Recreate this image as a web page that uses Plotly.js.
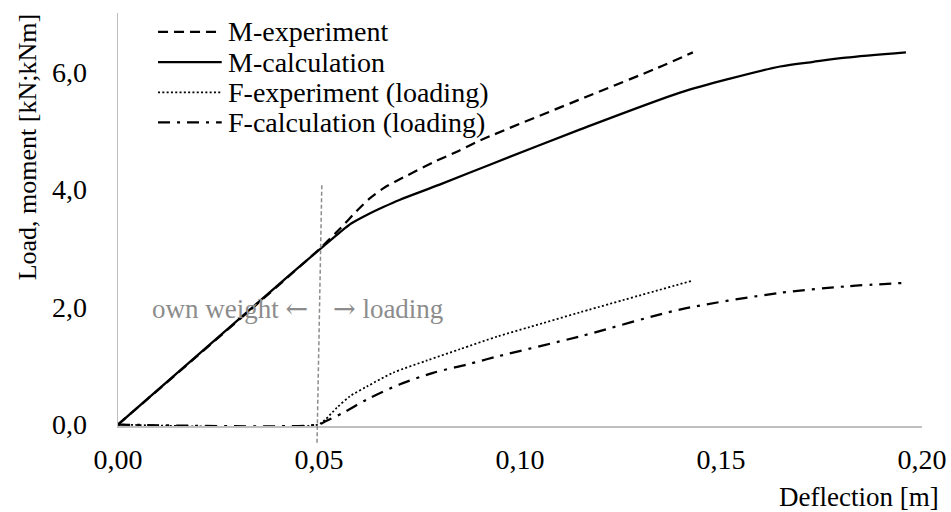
<!DOCTYPE html>
<html>
<head>
<meta charset="utf-8">
<script src="https://cdn.plot.ly/plotly-3.0.1.min.js"></script>
<style>
  html, body { margin: 0; padding: 0; background: #ffffff; }
  #chart { width: 951px; height: 512px; }
</style>
</head>
<body>
<div id="chart"></div>
<script>
// ---- data ----
var seriesNames = ["M-experiment", "M-calculation", "F-experiment (loading)", "F-calculation (loading)"];

var mExpX = [0, 0.050, 0.0552, 0.0595, 0.0627, 0.0665, 0.0709, 0.0784, 0.0843, 0.090, 0.1167, 0.134, 0.143];
var mExpY = [0, 2.98, 3.33, 3.64, 3.85, 4.04, 4.20, 4.46, 4.64, 4.83, 5.58, 6.06, 6.33];

var mCalcX = [0, 0.0428, 0.0507, 0.0552, 0.058, 0.062, 0.066, 0.070, 0.080, 0.0925, 0.115, 0.140, 0.152, 0.1647, 0.173, 0.181, 0.196];
var mCalcY = [0, 2.55, 3.01, 3.27, 3.42, 3.57, 3.70, 3.82, 4.08, 4.42, 5.02, 5.65, 5.88, 6.09, 6.17, 6.24, 6.33];

var fExpX = [0, 0.0498, 0.0515, 0.0545, 0.0577, 0.062, 0.0684, 0.0769, 0.085, 0.0945, 0.1025, 0.115, 0.143];
var fExpY = [0, 0, 0.08, 0.29, 0.48, 0.65, 0.88, 1.09, 1.28, 1.50, 1.66, 1.91, 2.45];

var fCalcX = [0, 0.050, 0.0515, 0.056, 0.062, 0.070, 0.0784, 0.0868, 0.0945, 0.115, 0.140, 0.1647, 0.181, 0.196];
var fCalcY = [0, 0, 0.05, 0.20, 0.43, 0.68, 0.88, 1.02, 1.16, 1.50, 1.96, 2.24, 2.35, 2.41];

var xTickVals = [0, 0.05, 0.10, 0.15, 0.20];
var yTickVals = [0, 2, 4, 6];

var xTitle = "Deflection [m]";
var yTitle = "Load, moment [kN;kNm]";
var leftNote = "own weight";
var rightNote = "loading";
var arrowLeft = "\u2190";
var arrowRight = "\u2192";
var dividerX = 0.05;

// ---- styles ----
var FONT = "Liberation Serif, Times New Roman, serif";
var ARROWFONT = "DejaVu Serif";
var styles = [
  {color: "#000000", width: 2.25, dash: "10px,6px"},
  {color: "#000000", width: 2.25, dash: "solid"},
  {color: "#000000", width: 1.75, dash: "2px,2.3px"},
  {color: "#000000", width: 2.25, dash: "12px,7px,3px,7px"}
];
var xs = [mExpX, mCalcX, fExpX, fCalcX];
var ys = [mExpY, mCalcY, fExpY, fCalcY];

var traces = seriesNames.map(function (n, i) {
  return {
    type: "scatter", mode: "lines", name: n,
    x: xs[i], y: ys[i],
    line: {color: styles[i].color, width: styles[i].width, dash: styles[i].dash,
           shape: "spline", smoothing: 0.8},
    showlegend: false, hoverinfo: "skip"
  };
});

// manual legend (long line samples like the reference)
var legRowsY = [0.954, 0.881, 0.808, 0.735];
var shapes = [];
var annotations = [];
seriesNames.forEach(function (n, i) {
  shapes.push({
    type: "line", xref: "paper", yref: "paper",
    x0: 0.0498, x1: 0.129, y0: legRowsY[i], y1: legRowsY[i],
    line: {color: styles[i].color, width: styles[i].width, dash: styles[i].dash}
  });
  annotations.push({
    xref: "paper", yref: "paper", x: 0.134, y: legRowsY[i],
    xanchor: "left", yanchor: "middle", showarrow: false,
    text: n, font: {family: FONT, size: 28, color: "#000000"}
  });
});

// divider line at 0.05 (slightly slanted, extends below the axis)
shapes.push({
  type: "line", xref: "x", yref: "paper",
  x0: dividerX + 0.0007, y0: 0.583, x1: dividerX - 0.0005, y1: -0.044,
  line: {color: "#8c8c8c", width: 1.5, dash: "4px,2.5px"}
});

annotations.push({
  xref: "x", yref: "y", x: 0.0478, y: 1.97, xanchor: "right", yanchor: "middle",
  showarrow: false,
  text: leftNote + " <span style=\"font-family:" + ARROWFONT + "\">" + arrowLeft + "</span>",
  font: {family: FONT, size: 27, color: "#8c8c8c"}
});
annotations.push({
  xref: "x", yref: "y", x: 0.053, y: 1.97, xanchor: "left", yanchor: "middle",
  showarrow: false,
  text: "<span style=\"font-family:" + ARROWFONT + "\">" + arrowRight + "</span> " + rightNote,
  font: {family: FONT, size: 27, color: "#8c8c8c"}
});

// axis titles as annotations (x title right-aligned, y title near top)
annotations.push({
  xref: "paper", yref: "paper", x: 1.024, y: -0.173, xanchor: "right", yanchor: "middle",
  showarrow: false, text: xTitle, font: {family: FONT, size: 27, color: "#000000"}
});
annotations.push({
  xref: "paper", yref: "paper", x: -0.113, y: 0.675, xanchor: "center", yanchor: "middle",
  textangle: -90, showarrow: false, text: yTitle, font: {family: FONT, size: 26, color: "#000000"}
});

var layout = {
  width: 951, height: 512,
  margin: {l: 118, r: 29, t: 13, b: 86},
  paper_bgcolor: "#ffffff", plot_bgcolor: "#ffffff",
  separators: ", ",
  showlegend: false,
  font: {family: FONT, size: 28, color: "#000000"},
  xaxis: {
    range: [0, 0.2], tickvals: xTickVals, tickformat: ".2f",
    showgrid: false, zeroline: false, showline: true,
    linecolor: "#bfbfbf", linewidth: 1.5, ticks: "",
    ticklabelstandoff: 8,
    tickfont: {family: FONT, size: 28, color: "#000000"}
  },
  yaxis: {
    range: [-0.025, 7], tickvals: yTickVals, tickformat: ".1f",
    showgrid: false, zeroline: false, showline: true,
    linecolor: "#bfbfbf", linewidth: 1.5, ticks: "",
    ticklabelstandoff: 24,
    tickfont: {family: FONT, size: 28, color: "#000000"}
  },
  shapes: shapes,
  annotations: annotations
};

Plotly.newPlot("chart", traces, layout, {staticPlot: true, displayModeBar: false});
</script>
</body>
</html>
